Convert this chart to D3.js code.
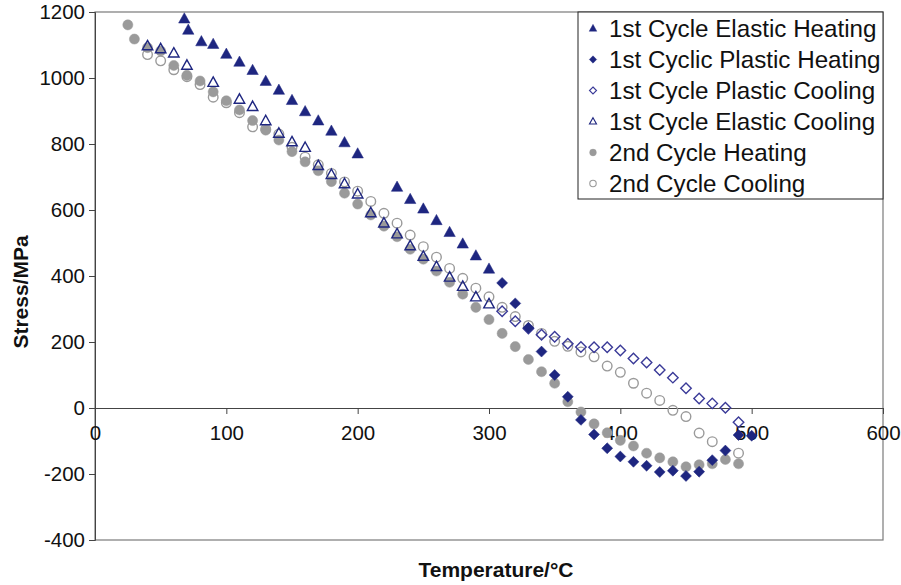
<!DOCTYPE html>
<html><head><meta charset="utf-8">
<script src="https://cdn.jsdelivr.net/npm/d3@7"></script>
<style>body{margin:0;background:#fff}svg{display:block}text{font-family:"Liberation Sans",Arial,sans-serif}</style>
</head><body>
<svg id="c" width="901" height="585"></svg>
<script>
// ---- data ----
const elasticHeatT = [68,71,81,90,100,110,120,130,140,150,160,170,180,190,200,230,240,250,260,270,280,290,300];
const elasticHeatS = [1179,1145,1110,1102,1072,1048,1023,990,963,932,898,870,839,804,770,669,632,603,568,532,497,461,421];

const plasticHeatT = [310,320,330,340,350,360,370,380,390,400,410,420,430,440,450,460,470,480,490,500];
const plasticHeatS = [379,317,243,171,100,34,-36,-80,-122,-147,-163,-175,-194,-190,-206,-193,-158,-129,-82,-84];

const plasticCoolT = [310,320,330,340,350,360,370,380,390,400,410,420,430,440,450,460,470,480,490];
const plasticCoolS = [293,263,241,222,216,195,185,184,184,174,150,138,115,92,60,29,14,1,-43];

const elasticCoolT = [40,50,60,70,90,110,120,130,140,150,160,170,180,190,200,210,220,230,240,250,260,270,280,290,300];
const elasticCoolS = [1097,1088,1075,1038,986,935,913,870,832,806,789,734,707,679,648,591,560,527,491,459,428,396,368,336,315];

const heat2T = [25,30,40,50,60,70,80,90,100,110,120,130,140,150,160,170,180,190,200,210,220,230,240,250,260,270,280,290,300,310,320,330,340,350,360,370,380,390,400,410,420,430,440,450,460,470,480,490];
const heat2S = [1161,1118,1092,1082,1038,1008,991,958,931,903,871,842,812,777,746,719,686,651,618,585,551,519,481,451,415,381,345,305,268,226,186,147,110,75,19,-12,-48,-75,-98,-115,-137,-151,-163,-178,-172,-169,-156,-169];

const cool2T = [40,50,60,70,80,90,100,110,120,130,140,150,160,170,180,190,200,210,220,230,240,250,260,270,280,290,300,310,320,330,340,350,360,370,380,390,400,410,420,430,440,450,460,470,490];
const cool2S = [1071,1052,1025,1004,980,942,925,895,852,845,830,790,760,737,711,685,657,626,590,560,524,489,457,423,393,363,337,305,277,250,226,202,187,170,155,127,108,75,45,23,-7,-26,-76,-102,-137];

const seriesNames = ["1st Cycle Elastic Heating","1st Cyclic Plastic Heating","1st Cycle Plastic Cooling","1st Cycle Elastic Cooling","2nd Cycle Heating","2nd Cycle Cooling"];
const xTicks = [0,100,200,300,400,500,600];
const yTicks = [-400,-200,0,200,400,600,800,1000,1200];

// ---- chart ----
const svg = d3.select("#c");
const L = 95, R = 883, T = 12, B = 540;
const x = d3.scaleLinear().domain([0,600]).range([L,R]);
const y = d3.scaleLinear().domain([-400,1200]).range([B,T]);

const navy = "#1e2680", navy2 = "#3a3a98", grey = "#9a9a9a";
const fmt = d => String(d);

// frame
svg.append("rect").attr("x",L).attr("y",T).attr("width",R-L).attr("height",B-T)
  .attr("fill","none").attr("stroke","#7a7a7a").attr("stroke-width",1.2);

// y axis
const ya = svg.append("g").attr("transform",`translate(${L},0)`)
  .call(d3.axisLeft(y).tickValues(yTicks).tickSize(6).tickPadding(4).tickFormat(fmt));
ya.selectAll("text").attr("font-size",20.5).attr("fill","#111");
ya.selectAll("line,path").attr("stroke","#444");

// x axis at y=0
const xa = svg.append("g").attr("transform",`translate(0,${y(0)})`)
  .call(d3.axisBottom(x).tickValues(xTicks).tickSize(6).tickPadding(11).tickFormat(fmt));
xa.selectAll("text").attr("font-size",20.5).attr("fill","#111");
xa.selectAll("line,path").attr("stroke","#444");

// axis titles
svg.append("text").attr("x",496).attr("y",577).attr("text-anchor","middle")
  .attr("font-size",21).attr("font-weight","bold").attr("fill","#111").text("Temperature/°C");
svg.append("text").attr("transform","translate(28,292) rotate(-90)").attr("text-anchor","middle")
  .attr("font-size",21).attr("font-weight","bold").attr("fill","#111").text("Stress/MPa");

// symbols
const diamondType = { draw(ctx, size){ const r = Math.sqrt(size/2); ctx.moveTo(0,-r); ctx.lineTo(r,0); ctx.lineTo(0,r); ctx.lineTo(-r,0); ctx.closePath(); } };
const triType = { draw(ctx, size){ const w = Math.sqrt(size); const h = w*0.9; ctx.moveTo(0,-h*0.6); ctx.lineTo(w/2,h*0.4); ctx.lineTo(-w/2,h*0.4); ctx.closePath(); } };

const styles = [
  {type:triType, size:130, fill:navy, stroke:navy, sw:0.5},
  {type:diamondType, size:60, fill:navy, stroke:navy, sw:0.5},
  {type:diamondType, size:55, fill:"none", stroke:navy2, sw:1.4},
  {type:triType, size:110, fill:"none", stroke:navy, sw:1.4},
  {type:d3.symbolCircle, size:80, fill:grey, stroke:grey, sw:0.5},
  {type:d3.symbolCircle, size:72, fill:"none", stroke:grey, sw:1.4}
];
const dataT = [elasticHeatT, plasticHeatT, plasticCoolT, elasticCoolT, heat2T, cool2T];
const dataS = [elasticHeatS, plasticHeatS, plasticCoolS, elasticCoolS, heat2S, cool2S];

const drawOrder = [5,4,3,2,1,0];
drawOrder.forEach(i => {
  const st = styles[i];
  const pts = dataT[i].map((t,k)=>({t, s:dataS[i][k]}));
  svg.append("g").selectAll("path").data(pts).join("path")
    .attr("transform", d=>`translate(${x(d.t)},${y(d.s)})`)
    .attr("d", d3.symbol().type(st.type).size(st.size))
    .attr("fill", st.fill).attr("stroke", st.stroke).attr("stroke-width", st.sw);
});

// legend
const lg = svg.append("g");
lg.append("rect").attr("x",578).attr("y",12).attr("width",305).attr("height",187)
  .attr("fill","#fff").attr("stroke","#222").attr("stroke-width",1);
seriesNames.forEach((n,i)=>{
  const cy = 28.5 + i*31;
  const st = styles[i];
  lg.append("path").attr("transform",`translate(593,${cy})`)
    .attr("d", d3.symbol().type(st.type).size(st.size*0.45))
    .attr("fill", st.fill).attr("stroke", st.stroke).attr("stroke-width", st.sw*0.8);
  lg.append("text").attr("x",609).attr("y",cy).attr("dy","0.36em")
    .attr("font-size",24.2).attr("fill","#111").text(n);
});
</script>
</body></html>
